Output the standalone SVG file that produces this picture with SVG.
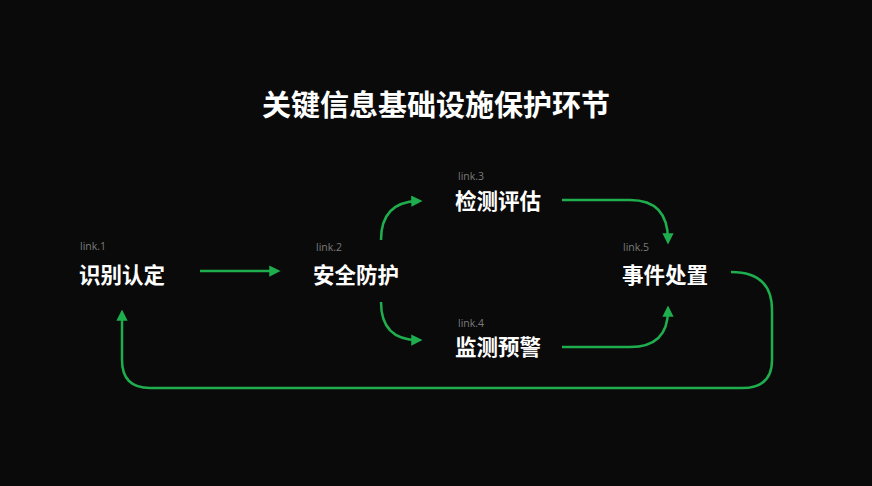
<svg xmlns="http://www.w3.org/2000/svg" width="872" height="486" viewBox="0 0 872 486">
<style>
.t{font-family:"Noto Sans CJK SC","Noto Sans",sans-serif;font-weight:bold;fill:#fff}
.n{font-size:21.5px}
.l{font-family:"Open Sans","Noto Sans",sans-serif;font-size:10.5px;fill:#7a7a7a}
.c{fill:none;stroke:#1fae4e;stroke-width:2.5;marker-end:url(#a)}
</style>
<defs><marker id="a" viewBox="0 0 10 10" refX="6" refY="5" markerWidth="4.5" markerHeight="4.5" orient="auto" markerUnits="strokeWidth"><path d="M0,0L10,5L0,10z" fill="#1fae4e"/></marker></defs>
<rect width="872" height="486" fill="#0a0a0a"/>
<text class="t" x="436" y="116" font-size="29" text-anchor="middle">关键信息基础设施保护环节</text>
<g id="connectors">
<path class="c" d="M200,271L276,271"/>
<path class="c" d="M381,240Q381,202 418,201"/>
<path class="c" d="M381,302Q381,340 418,340"/>
<path class="c" d="M562,200L630,200Q668,200 668,240"/>
<path class="c" d="M562,347L630,347Q668,347 668,310"/>
<path class="c" d="M731,272Q772,272 772,310L772,360Q772,388 742,388L150,388Q122,388 122,360L122,314"/>
</g>
<g id="n1"><text class="l" x="80" y="250">link.1</text><text class="t n" x="79" y="283">识别认定</text></g>
<g id="n2"><text class="l" x="316" y="251">link.2</text><text class="t n" x="313" y="283">安全防护</text></g>
<g id="n3"><text class="l" x="458" y="180">link.3</text><text class="t n" x="455" y="209">检测评估</text></g>
<g id="n4"><text class="l" x="458" y="327">link.4</text><text class="t n" x="455" y="355">监测预警</text></g>
<g id="n5"><text class="l" x="623" y="251">link.5</text><text class="t n" x="622" y="283">事件处置</text></g>
</svg>
